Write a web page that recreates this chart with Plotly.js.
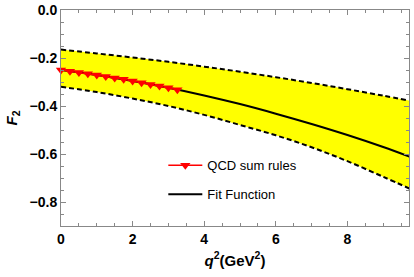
<!DOCTYPE html>
<html>
<head>
<meta charset="utf-8">
<script src="https://cdn.plot.ly/plotly-3.0.1.min.js"></script>
<style>html,body{margin:0;padding:0;background:#fff;}#chart{width:414px;height:277px;}</style>
</head>
<body>
<div id="chart"></div>
<script>
// Band and fit function
const q2Fit = [0, 1, 2, 3, 4, 5, 6, 7, 8, 9, 9.75];
const fitCentral = [-0.250, -0.271, -0.296, -0.324, -0.356, -0.392, -0.432, -0.475, -0.521, -0.571, -0.612];
const fitUpper = [-0.165, -0.181, -0.198, -0.216, -0.236, -0.257, -0.280, -0.304, -0.330, -0.357, -0.378];
const fitLower = [-0.320, -0.342, -0.369, -0.400, -0.437, -0.479, -0.522, -0.572, -0.630, -0.695, -0.745];
// QCD sum rules points
const q2Sr = [0, 0.25, 0.5, 0.75, 1.0, 1.25, 1.5, 1.75, 2.0, 2.25, 2.5, 2.75, 3.0, 3.25];
const f2Sr = [-0.250, -0.255, -0.260, -0.266, -0.271, -0.277, -0.283, -0.289, -0.296, -0.303, -0.310, -0.317, -0.324, -0.332];
const yTickVals = [0, -0.2, -0.4, -0.6, -0.8];
const xTickVals = [0, 2, 4, 6, 8];

const traces = [
  {x: q2Fit, y: fitLower, mode: 'lines', line: {color: 'black', width: 2, dash: '5px,3px', shape: 'spline'}, showlegend: false, hoverinfo: 'skip'},
  {x: q2Fit, y: fitUpper, mode: 'lines', fill: 'tonexty', fillcolor: '#FFFF00', line: {color: 'black', width: 2, dash: '5px,3px', shape: 'spline'}, showlegend: false, hoverinfo: 'skip'},
  {x: q2Fit, y: fitCentral, mode: 'lines', name: 'Fit Function', legendgroup: 'b', legendrank: 2, line: {color: 'black', width: 2, shape: 'spline'}},
  {x: q2Sr, y: f2Sr, mode: 'lines+markers', name: 'QCD sum rules', legendgroup: 'a', legendrank: 1, line: {color: '#FF0000', width: 1.5}, marker: {symbol: 'triangle-down', size: 9, color: '#FF0000'}, cliponaxis: false}
];

const axisCommon = {
  showline: true, linecolor: '#888', linewidth: 1, mirror: 'ticks',
  ticks: 'inside', ticklen: 5, tickcolor: '#888', tickwidth: 1,
  showgrid: false, zeroline: false,
  tickfont: {family: 'Liberation Sans, Arial, sans-serif', size: 14, color: 'black', weight: 'bold'}
};

const layout = {
  width: 414, height: 277,
  margin: {l: 61, r: 5, t: 10, b: 51},
  paper_bgcolor: 'white', plot_bgcolor: 'white',
  showlegend: true,
  legend: {x: 0.294, y: 0.35, xanchor: 'left', yanchor: 'top', bgcolor: 'rgba(0,0,0,0)',
    font: {family: 'Liberation Sans, Arial, sans-serif', size: 13, color: 'black'},
    traceorder: 'grouped', tracegroupgap: 9, itemwidth: 34},
  xaxis: Object.assign({}, axisCommon, {
    range: [0, 9.72], tickvals: xTickVals, ticktext: xTickVals.map(v => String(v)),
    minor: {dtick: 0.5, tick0: 0, ticks: 'inside', ticklen: 3, tickcolor: '#888'},
    title: {text: '<b><i>q</i><sup>2</sup>(GeV<sup>2</sup>)</b>', standoff: 9,
      font: {family: 'Liberation Sans, Arial, sans-serif', size: 15, color: 'black'}}
  }),
  yaxis: Object.assign({}, axisCommon, {
    range: [-0.9, 0], tickvals: yTickVals, ticktext: yTickVals.map(v => (v < 0 ? '\u2212' : '') + Math.abs(v).toFixed(1)),
    minor: {dtick: 0.05, tick0: 0, ticks: 'inside', ticklen: 3, tickcolor: '#888'},
    title: {text: '<b><i>F</i><sub>2</sub></b>', standoff: 8,
      font: {family: 'Liberation Sans, Arial, sans-serif', size: 15, color: 'black'}}
  })
};

Plotly.newPlot('chart', traces, layout, {displayModeBar: false, staticPlot: true});
</script>
</body>
</html>
